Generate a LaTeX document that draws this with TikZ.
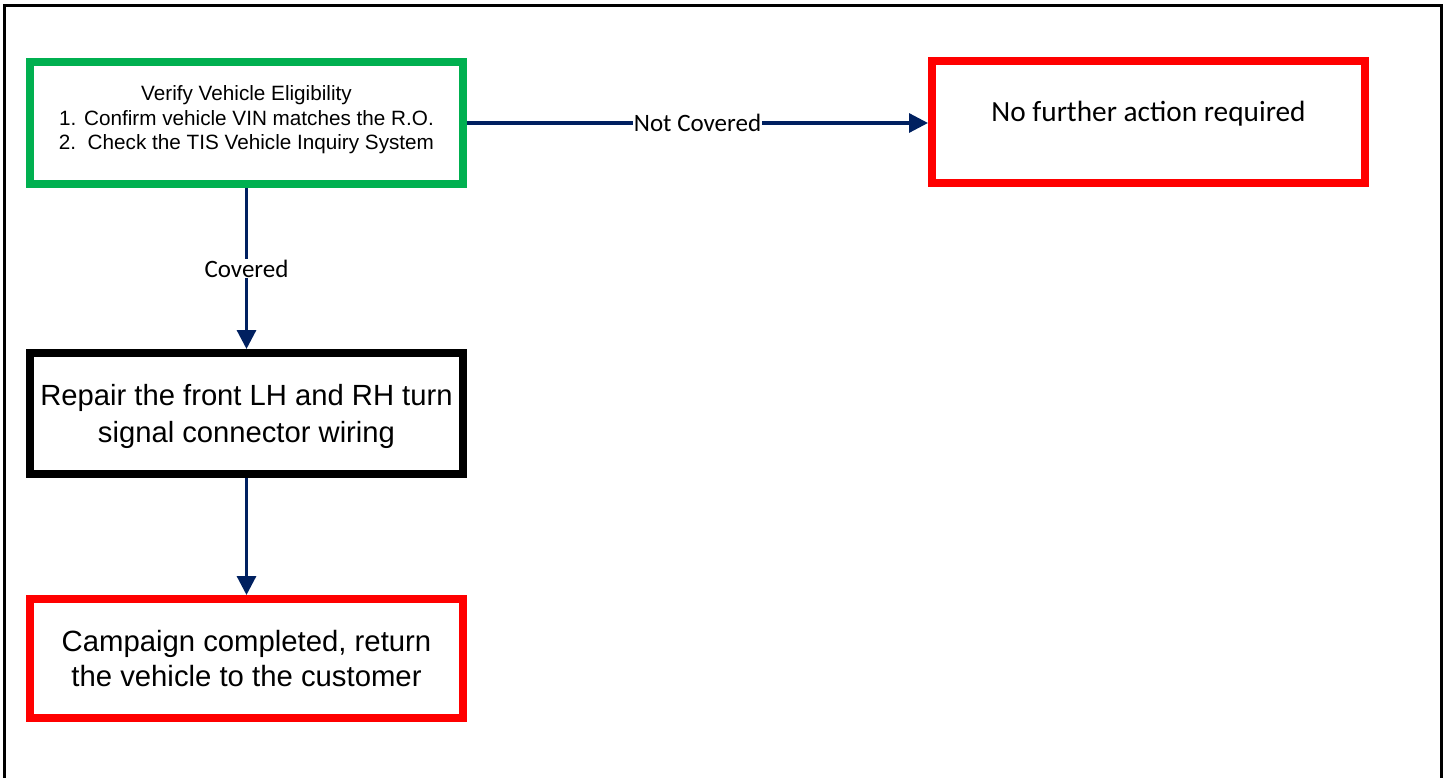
\documentclass[tikz,border=0pt]{standalone}
\usepackage{fontspec}
\setmainfont{Liberation Sans}
\newfontfamily\lblfont{Carlito}
\usetikzlibrary{arrows.meta}
\definecolor{navy}{HTML}{002060}
\definecolor{boxgreen}{HTML}{00B050}
\definecolor{boxred}{HTML}{FF0000}
\tikzset{
  box/.style={draw, line width=8pt, fill=white, minimum width=433pt, minimum height=122pt, align=center, inner sep=0pt},
  conn/.style={draw=navy, line width=3.2pt, -{Triangle[length=19pt,width=19pt]}},
  lbl/.style={fill=white, font=\lblfont\fontsize{25}{28}\selectfont, inner sep=1pt, text=black}
}
\begin{document}
\begin{tikzpicture}[x=1pt,y=-1pt]
\useasboundingbox (0,0) rectangle (1449,778);
\draw[line width=3pt] (4,778) -- (4,6) -- (1441,6) -- (1441,778);
\node[box, draw=boxgreen, font=\fontsize{20.7}{24.5}\selectfont, text depth=10pt] (verify) at (246.5,123)
  {Verify Vehicle Eligibility\\1. Confirm vehicle VIN matches the R.O.\\2.\ \ Check the TIS Vehicle Inquiry System};
\node[box, draw=boxred, font=\lblfont\fontsize{29.3}{33}\selectfont, text height=20pt, text depth=20pt] (nofurther) at (1148.5,122)
  {No further action required};
\node[box, draw=black, minimum height=121pt, font=\fontsize{29.2}{37}\selectfont, text height=63pt, text depth=6pt] (repair) at (246.5,413.5)
  {Repair the front LH and RH turn\\signal connector wiring};
\node[box, draw=boxred, minimum height=119pt, font=\fontsize{29.3}{34.5}\selectfont] (done) at (246.5,658.5)
  {Campaign completed, return\\the vehicle to the customer};
\draw[conn] (verify.east) -- node[lbl] (nc) {Not Covered} (verify.east -| nofurther.west);
\draw[conn] (verify.south) -- node[lbl] (cv) {Covered} (repair.north);
\draw[conn] (repair.south) -- (done.north);
\end{tikzpicture}
\end{document}
